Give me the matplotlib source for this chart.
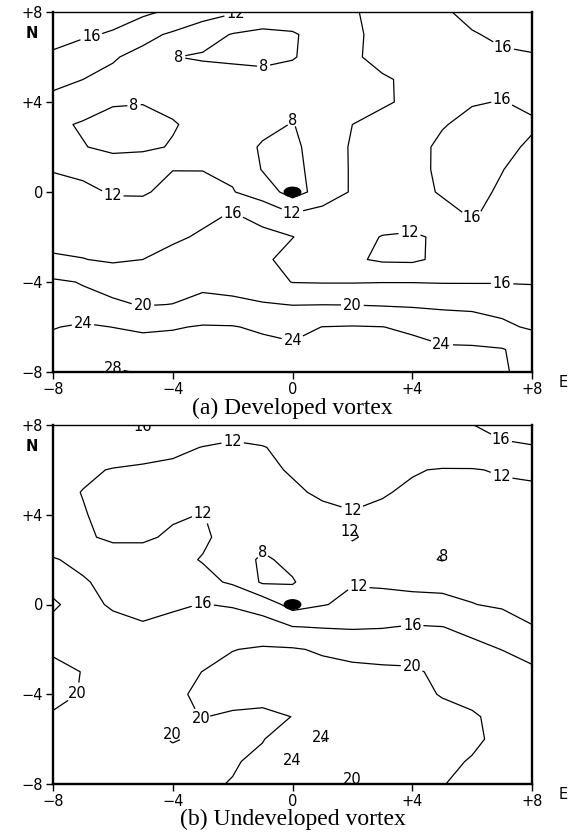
import matplotlib.pyplot as plt
import numpy as np
from matplotlib.patches import Ellipse

plt.rcParams['font.family'] = ['DejaVu Sans']

# grid: x from -8 (west) to +8 (east), rows listed from y=+8 (north) to y=-8
xs = list(range(-8, 9))
ys = list(range(8, -9, -1))

# (a) Developed vortex
developed = [
    [20, 19, 18, 16.8, 15.2, 13.8, 12.4, 11, 10.5, 10.8, 11.7, 13, 14.2, 15.6, 16.8, 17.5, 18],
    [17.5, 16.6, 15.5, 13, 11.5, 9.5, 7.8, 7, 7.6, 9.5, 11.5, 12.8, 13.8, 15, 15.8, 16.5, 16.8],
    [15.3, 13.5, 12.3, 11, 8.1, 7.6, 7.2, 6.8, 7.7, 9.8, 11.6, 12.8, 13.8, 14.6, 15.2, 15.6, 15.8],
    [12.5, 12, 11.2, 10.3, 9.5, 9.8, 9.8, 9.6, 9.8, 10, 11, 11.7, 12.5, 13.5, 14.5, 15.2, 15.5],
    [11.5, 10, 8.4, 8.2, 9, 9.8, 10, 9.5, 8.9, 10, 11, 11.6, 12.6, 14.2, 15.8, 16.1, 15.4],
    [8.8, 7.6, 6.5, 6.5, 7.7, 9.2, 10.2, 9.3, 7.8, 10.5, 12, 13, 14.2, 15.8, 16.8, 17, 16.4],
    [10.5, 8.2, 7, 7.2, 8.3, 9.8, 10.2, 7.5, 7, 10.3, 12.3, 13.5, 15, 16.6, 17.2, 16.8, 15.5],
    [11.85, 11.5, 10.5, 11, 11.95, 11.95, 11.3, 7.8, 7, 9.5, 12.4, 13.6, 15.2, 16.5, 17.2, 16.1, 14.5],
    [13, 12.5, 11.8, 11.7, 12.8, 12.7, 12.2, 10, 6.5, 9.5, 12.4, 13.5, 15, 16.3, 17, 15.5, 14.5],
    [14, 13.8, 13, 13.3, 14.5, 15.3, 16.2, 15, 12.3, 13.5, 13.3, 13.2, 13.8, 15, 16.3, 15, 14],
    [15, 14.7, 14.3, 14.6, 15.5, 16.4, 17, 16.8, 16.1, 14, 12.8, 11.9, 11.5, 12.6, 14, 14.5, 15],
    [16.4, 16.1, 15.5, 16, 17, 17.5, 17.6, 16.8, 14.5, 13.5, 12.5, 11.5, 11.4, 12.8, 14, 14.8, 15],
    [20.6, 19.8, 18.8, 18.3, 18.6, 19.3, 19, 17.5, 15.9, 15.8, 15.8, 15.9, 15.9, 15.8, 15.8, 15.8, 15.7],
    [21.5, 21, 20.5, 19.8, 20.05, 20.8, 20.6, 20.3, 19.9, 19.95, 19.9, 19.7, 19.5, 19.2, 19, 19, 18.3],
    [23.8, 24.6, 23.95, 23.3, 23.7, 24.3, 24.2, 23.4, 23, 24.05, 24.2, 24.05, 23.4, 22.6, 22.2, 20.6, 19.6],
    [25.5, 26.3, 26.6, 26, 25.8, 26, 26, 25.3, 24.6, 25.3, 25.8, 25.7, 25.1, 24.4, 24.4, 24.2, 22.5],
    [26.5, 27.5, 28.3, 27.8, 27, 27, 26.8, 26.2, 25.8, 26.2, 26.5, 26.3, 25.7, 25.1, 24.8, 24.5, 22.5],
]

# (b) Undeveloped vortex
undeveloped = [
    [14.5, 15, 15.6, 16.2, 15.5, 14.5, 13.5, 13.2, 13.5, 14, 14.3, 14.5, 14.8, 15.3, 15.95, 16.8, 17.5],
    [14.2, 14.3, 14.3, 14, 12.8, 11.9, 11.4, 11.9, 12.6, 13.3, 13.8, 14.2, 14.5, 14.8, 15.2, 15.6, 15.8],
    [13.8, 12.6, 11.8, 11.3, 11.2, 11, 10.8, 11.3, 12.3, 13, 13.3, 12.8, 12.2, 11.8, 11.8, 12.3, 12.5],
    [13, 11.9, 10.8, 10.3, 10.2, 10.3, 10.2, 10.5, 11.5, 12.5, 12.8, 12.2, 11.6, 11.3, 11.2, 11.3, 11.5],
    [12.8, 12.2, 11, 10.8, 11.6, 12.1, 10.5, 10, 10.2, 11.2, 11.8, 11.5, 11, 10.5, 10.8, 11, 11.2],
    [13.5, 12.5, 11.4, 11.5, 12.5, 12.6, 10.6, 9.3, 9.5, 11, 12.2, 11.2, 10, 8.5, 10, 10.5, 10.8],
    [16.3, 15, 13.8, 13.5, 13, 11.8, 10, 7.4, 9, 10.5, 11, 10.3, 9, 7.8, 9.2, 10, 10.5],
    [17.5, 16.4, 14.8, 14.5, 14, 13, 11.5, 7.5, 7.7, 10.5, 11.8, 11.6, 11.4, 11.3, 11, 11.5, 11.5],
    [21, 17, 15.6, 15.4, 15.5, 16.1, 15.7, 14.5, 10.5, 11.8, 12.8, 13, 12.8, 12.7, 12.1, 11.5, 11.2],
    [18, 17.2, 17, 16.2, 17, 17.5, 17.8, 17.5, 16.1, 15.8, 15.6, 15.8, 16.3, 16.05, 15.2, 14, 12.1],
    [19.5, 18.2, 17.5, 17.3, 17.6, 18.5, 19.9, 20.4, 20.3, 19.6, 19.2, 18.9, 18.8, 18, 16.8, 15.95, 15],
    [21, 19.9, 18.5, 18.2, 18.8, 20.05, 21, 21.5, 21.5, 21, 20.6, 20.5, 20.4, 19.4, 18.5, 17.5, 16.5],
    [21.3, 19.7, 18.3, 18, 19.3, 20.7, 21.3, 21.2, 21.5, 21.6, 21.5, 21.3, 20.9, 19.8, 19, 18.5, 17.5],
    [19.5, 18.6, 18, 18.5, 19.3, 20.1, 19.5, 19.2, 20.05, 22, 22.3, 22, 21.5, 21, 20.4, 19, 18],
    [18.5, 18.3, 18.5, 19.2, 20.2, 19.5, 19, 19.8, 22.5, 24.2, 22.8, 22.3, 21.8, 21.3, 20.5, 19.3, 18.5],
    [18.2, 18, 18.2, 18.6, 19, 19.3, 19.6, 21, 24.1, 22.5, 21.5, 21.4, 21, 20.6, 19.8, 19, 18.5],
    [18, 18, 18.3, 18.8, 19.2, 19.4, 20.2, 21, 22, 20.8, 19.6, 20.7, 20.5, 20.1, 19.3, 18.8, 18.3],
]

levels = [8, 12, 16, 20, 24, 28]
ticks = [-8, -4, 0, 4, 8]
tick_labels = ['\u22128', '\u22124', '0', '+4', '+8']

# where each contour number sits
developed_labels = [(-6.7, 6.8), (-1.9, 7.9), (-4.1, 6.2), (-1.0, 5.8), (-5.3, 4.0),
                    (0.0, 3.2), (-6.1, -0.4), (0.0, -0.9), (-2.0, -0.85), (3.9, -1.6),
                    (6.0, -1.3), (7.0, 4.1), (7.0, 6.2), (7.0, -4.1), (-5.0, -5.1),
                    (2.0, -5.0), (-7.0, -5.6), (0.0, -6.6), (5.0, -6.7), (-6.0, -7.85)]
undeveloped_labels = [(-5.0, 7.95), (-2.0, 7.3), (7.0, 7.45), (7.0, 5.8), (-3.0, 4.05),
                      (2.0, 4.15), (2.0, 3.2), (-1.0, 2.3), (5.0, 2.1), (2.2, 0.85),
                      (-3.0, 0.05), (4.0, -0.8), (-7.1, -4.0), (4.0, -2.6), (-3.0, -5.0),
                      (-4.0, -5.7), (1.0, -6.0), (0.0, -6.95), (2.0, -7.8)]


def draw_panel(ax, rows, label_pos, caption):
    z = np.array(rows)
    cs = ax.contour(xs, ys, z, levels=levels, colors='black', linewidths=0.9)
    texts = ax.clabel(cs, levels, manual=label_pos, inline=True, inline_spacing=2,
                      fontsize=10.5, fmt='%d')
    for t in texts:
        t.set_clip_on(True)
        t.set_rotation(0)
    ax.add_patch(Ellipse((0, 0), 0.55, 0.42, color='black', zorder=5))
    ax.set_xlim(-8, 8)
    ax.set_ylim(-8, 8)
    ax.set_xticks(ticks)
    ax.set_xticklabels(tick_labels)
    ax.set_yticks(ticks)
    ax.set_yticklabels(tick_labels)
    ax.tick_params(direction='out', length=5, width=1, labelsize=10.5, pad=2)
    for side in ['left', 'bottom', 'right']:
        ax.spines[side].set_linewidth(1.7)
    ax.spines['top'].set_linewidth(1.0)
    ax.text(-0.045, 0.94, 'N', transform=ax.transAxes, ha='center', va='center',
            fontsize=10.5, fontweight='bold')
    ax.text(1.065, -0.03, 'E', transform=ax.transAxes, ha='center', va='center',
            fontsize=10.5)
    ax.text(0.5, -0.1, caption, transform=ax.transAxes, ha='center', va='center',
            fontsize=17, family=['Liberation Serif', 'DejaVu Serif'])


fig = plt.figure(figsize=(5.76, 8.32), dpi=100)
ax_a = fig.add_axes([53 / 576, 1 - 372 / 832, 479 / 576, 360 / 832])
ax_b = fig.add_axes([53 / 576, 1 - 784 / 832, 479 / 576, 359 / 832])

draw_panel(ax_a, developed, developed_labels, '(a) Developed vortex')
draw_panel(ax_b, undeveloped, undeveloped_labels, '(b) Undeveloped vortex')

fig.savefig('out.png', dpi=100)
